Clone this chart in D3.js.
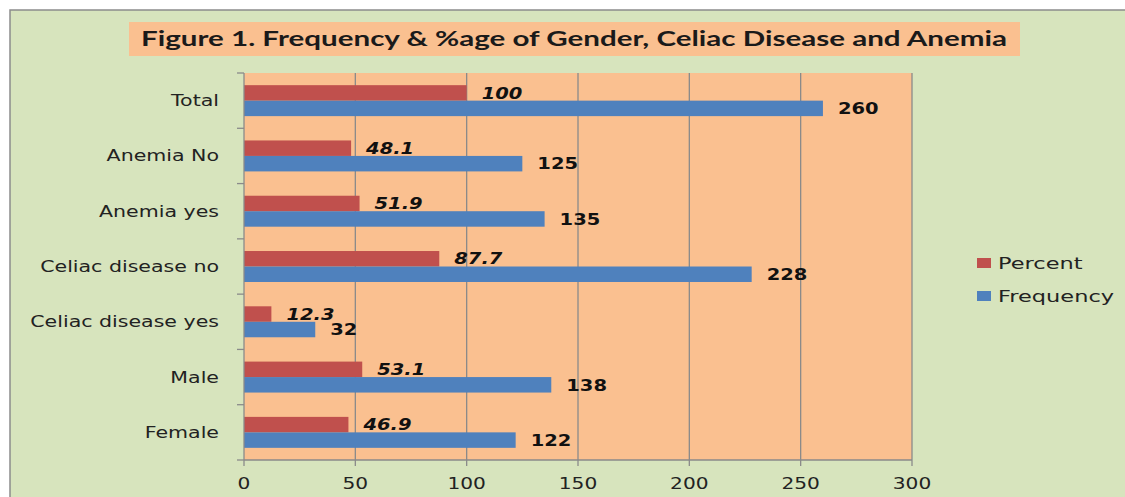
<!DOCTYPE html>
<html>
<head>
<meta charset="utf-8">
<script src="https://cdn.jsdelivr.net/npm/d3@7"></script>
<style>
  body { margin: 0; background: #fff; }
  svg { display: block; }
</style>
</head>
<body>
<script>
// Chart data, bottom category first as in the original
var categories = ['Female', 'Male', 'Celiac disease yes', 'Celiac disease no', 'Anemia yes', 'Anemia No', 'Total'];
var percent = [46.9, 53.1, 12.3, 87.7, 51.9, 48.1, 100];
var frequency = [122, 138, 32, 228, 135, 125, 260];
var xTicks = [0, 50, 100, 150, 200, 250, 300];
var seriesNames = ['Percent', 'Frequency'];
var seriesColors = ['#C0504D', '#4F81BD'];

let width = 1125;
let height = 497;

// The original picture is stretched sideways, so text gets a horizontal scale too
let stretch = 1.3;

// Plot area
let plotLeft = 244, plotRight = 912, plotTop = 73, plotBottom = 460;

var svg = d3.select('body').append('svg')
    .attr('width', width)
    .attr('height', height);

// Put a text at (px, py) with the sideways stretch
function place(px, py) {
  return 'translate(' + px + ',' + py + ') scale(' + stretch + ',1)';
}

// Outer chart background
svg.append('rect').attr('x', 10).attr('y', 10).attr('width', width).attr('height', height)
    .attr('fill', '#D7E4BD').attr('stroke', '#8c8c8c').attr('stroke-width', 1.5);

// Title box
svg.append('rect').attr('x', 129).attr('y', 22).attr('width', 891).attr('height', 34).attr('fill', '#FAC090');
svg.append('text').attr('x', 574).attr('y', 46).attr('text-anchor', 'middle')
    .attr('font-family', 'Lato, "Open Sans", sans-serif').attr('font-weight', 'bold').attr('font-size', 21)
    .attr('fill', '#1a1a1a')
    .attr('textLength', 866).attr('lengthAdjust', 'spacingAndGlyphs')
    .text('Figure 1. Frequency & %age of Gender, Celiac Disease and Anemia');

var x = d3.scaleLinear().domain([0, 300]).range([plotLeft, plotRight]);
var y = d3.scaleBand().domain(categories.slice().reverse()).range([plotTop, plotBottom]).paddingInner(0.44).paddingOuter(0.22);
var sub = d3.scaleBand().domain(seriesNames).range([0, y.bandwidth()]);

// Plot background
svg.append('rect').attr('x', plotLeft).attr('y', plotTop).attr('width', plotRight - plotLeft).attr('height', plotBottom - plotTop).attr('fill', '#FAC090');

// Vertical grid lines
svg.append('g').selectAll('line').data(xTicks.slice(1)).join('line')
    .attr('x1', d => x(d)).attr('x2', d => x(d)).attr('y1', plotTop).attr('y2', plotBottom)
    .attr('stroke', '#8a8a8a').attr('stroke-width', 1.3);

// Bars
var rows = categories.map((c, i) => ({ cat: c, vals: [percent[i], frequency[i]] }));
var g = svg.append('g').selectAll('g').data(rows).join('g')
    .attr('transform', d => 'translate(0,' + y(d.cat) + ')');

g.selectAll('rect').data(d => d.vals.map((v, j) => ({ v: v, s: seriesNames[j], j: j }))).join('rect')
    .attr('x', x(0)).attr('y', d => sub(d.s)).attr('width', d => x(d.v) - x(0)).attr('height', sub.bandwidth())
    .attr('fill', d => seriesColors[d.j]);

// Value labels
g.selectAll('text').data(d => d.vals.map((v, j) => ({ v: v, s: seriesNames[j], j: j }))).join('text')
    .attr('transform', d => place(x(d.v) + 15, sub(d.s) + sub.bandwidth() / 2)).attr('dy', '0.38em')
    .attr('font-family', '"DejaVu Sans", Verdana, sans-serif').attr('font-size', 15).attr('font-weight', 'bold')
    .attr('font-style', d => d.j == 0 ? 'italic' : 'normal').attr('fill', '#111')
    .text(d => d.v);

// Y axis
var yAxis = svg.append('g').attr('transform', 'translate(' + plotLeft + ',0)');
yAxis.append('line').attr('x1', 0).attr('x2', 0).attr('y1', plotTop).attr('y2', plotBottom).attr('stroke', '#8a8a8a').attr('stroke-width', 1.3);
var yBounds = d3.range(categories.length + 1).map(i => plotTop + i * (plotBottom - plotTop) / categories.length);
yAxis.selectAll('line.tick').data(yBounds).join('line').attr('class', 'tick')
    .attr('x1', -7).attr('x2', 0).attr('y1', d => d).attr('y2', d => d).attr('stroke', '#8a8a8a').attr('stroke-width', 1.3);
yAxis.selectAll('text').data(categories).join('text')
    .attr('transform', d => place(-25, y(d) + y.bandwidth() / 2)).attr('dy', '0.35em').attr('text-anchor', 'end')
    .attr('font-family', '"DejaVu Sans", Verdana, sans-serif').attr('font-size', 15.8).attr('fill', '#222')
    .text(d => d);

// X axis
var xAxis = svg.append('g').attr('transform', 'translate(0,' + plotBottom + ')');
xAxis.append('line').attr('x1', plotLeft).attr('x2', plotRight).attr('stroke', '#8a8a8a').attr('stroke-width', 1.3);
xAxis.selectAll('line.tick').data(xTicks).join('line').attr('class', 'tick')
    .attr('x1', d => x(d)).attr('x2', d => x(d)).attr('y1', 0).attr('y2', 6).attr('stroke', '#8a8a8a').attr('stroke-width', 1.3);
xAxis.selectAll('text').data(xTicks).join('text')
    .attr('transform', d => place(x(d), 24)).attr('dy', '0.35em').attr('text-anchor', 'middle')
    .attr('font-family', '"DejaVu Sans", Verdana, sans-serif').attr('font-size', 15.5).attr('fill', '#222')
    .text(d => d);

// Legend
var legend = svg.append('g').selectAll('g').data(seriesNames).join('g')
    .attr('transform', (d, i) => 'translate(977,' + (263 + i * 33) + ')');
legend.append('rect').attr('x', 0).attr('y', -5).attr('width', 14).attr('height', 10).attr('fill', (d, i) => seriesColors[i]);
legend.append('text').attr('transform', place(21, 0) + ' scale(1.08,1)').attr('dy', '0.35em')
    .attr('font-family', '"DejaVu Sans", Verdana, sans-serif').attr('font-size', 16).attr('fill', '#222')
    .text(d => d);
</script>
</body>
</html>
